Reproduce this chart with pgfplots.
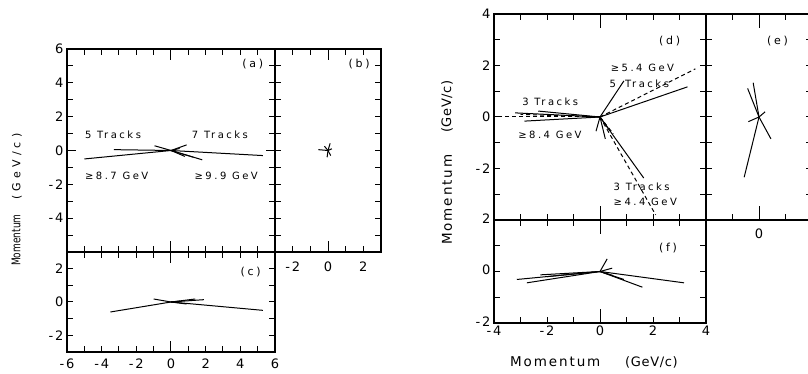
\documentclass[border=0pt]{standalone}
\usepackage{fontspec}
\setmainfont{DejaVu Sans}
\newfontfamily\spacedfont[LetterSpace=25]{DejaVu Sans}
\newfontfamily\titlefont[LetterSpace=14]{DejaVu Sans}
\newfontfamily\unitfont[LetterSpace=5]{DejaVu Sans}
\newfontfamily\leftunitfont[LetterSpace=38]{DejaVu Sans}
\newfontfamily\narrowfont[FakeStretch=0.75]{DejaVu Sans}
\usepackage{pgfplots}
\pgfplotsset{compat=1.18}

% one track: a straight segment from the vertex to its end point
\newcommand\trk[3][]{\addplot[trk,#1] coordinates {(0,0) (#2,#3)};}
\newcommand\mn{-\kern1.8pt}
\newcommand\annfont{\fontsize{10}{11}\spacedfont}
\newcommand\panfont{\fontsize{11}{12}\spacedfont}

\tikzset{lbl/.style={anchor=west, inner sep=0pt}}
\pgfplotsset{
  panel/.style={
    scale only axis, anchor=south west,
    axis line style={line width=1.3pt},
    tick style={black, line width=1pt},
    tick align=inside,
    major tick length=6pt, minor tick length=6pt,
    ticklabel style={font=\fontsize{13}{14}\selectfont},
    /pgf/number format/assume math mode=true,
    clip=true,
  },
  trk/.style={black, line width=1pt, no markers},
  dsh/.style={dash pattern=on 4pt off 3pt},
  zero x/.style={extra x ticks={0}, extra x tick labels={},
    extra x tick style={major tick length=#1}},
  zero y/.style={extra y ticks={0}, extra y tick labels={},
    extra y tick style={major tick length=#1}},
}

\begin{document}
\begin{tikzpicture}
\useasboundingbox (0pt,0pt) rectangle (808pt,374pt);
\clip (0pt,0pt) rectangle (808pt,374pt);

% ---------------- (a) ----------------
\begin{axis}[panel, at={(67pt,122pt)}, width=208pt, height=203pt,
  xmin=-6, xmax=6, ymin=-6, ymax=6,
  xtick={-5,...,5}, xticklabels={}, zero x=11pt,
  ytick={-4,-2,0,2,4,6}, yticklabels={\mn4,\mn2,0,2,4,6},
  minor ytick={-5,-3,-1,1,3,5}, zero y=9pt]
\trk{-5.0}{-0.5}
\trk{-3.3}{0.05}
\trk{-0.95}{0.28}
\trk{0.9}{0.33}
\trk{1.8}{-0.55}
\trk{1.3}{-0.4}
\trk{0.8}{-0.35}
\trk{5.3}{-0.3}
\trk{0.5}{0.12}
\node[lbl, font=\panfont] at (axis cs:4.1,5.1) {(a)};
\node[lbl, font=\annfont] at (axis cs:-4.97,0.95) {5 Tracks};
\node[lbl, font=\annfont] at (axis cs:1.2,0.95) {7 Tracks};
\node[lbl, font=\annfont] at (axis cs:-4.97,-1.48) {≥8.7 GeV};
\node[lbl, font=\annfont] at (axis cs:1.35,-1.48) {≥9.9 GeV};
\end{axis}

% ---------------- (b) ----------------
\begin{axis}[panel, at={(275pt,122pt)}, width=106pt, height=203pt,
  xmin=-3, xmax=3, ymin=-6, ymax=6,
  xtick={-2,0,2}, xticklabels={\mn2,0,2}, minor xtick={-1,1}, zero x=11pt,
  xticklabel style={yshift=-6pt},
  ytick={-5,...,5}, yticklabels={}]
\trk{-0.55}{0.05}
\trk{0.12}{0.42}
\trk{-0.05}{-0.4}
\trk{0.15}{-0.3}
\trk{0.22}{0.1}
\trk{-0.2}{0.25}
\node[lbl, font=\panfont] at (axis cs:1.16,5.1) {(b)};
\end{axis}

% ---------------- (c) ----------------
\begin{axis}[panel, at={(67pt,22pt)}, width=208pt, height=100pt,
  xmin=-6, xmax=6, ymin=-3, ymax=3,
  xtick={-6,-4,...,6}, xticklabels={\mn6,\mn4,\mn2,0,2,4,6},
  minor xtick={-5,-3,...,5}, zero x=11pt,
  xticklabel style={yshift=-3pt},
  ytick={-2,0,2}, yticklabels={\mn2,0,2}, minor ytick={-1,1}]
\trk{-3.5}{-0.6}
\trk{5.3}{-0.5}
\trk{-1.0}{0.18}
\trk{1.9}{0.14}
\trk{1.4}{0.18}
\trk{0.9}{-0.12}
\trk{0.5}{0.05}
\node[lbl, font=\panfont] at (axis cs:4.0,1.8) {(c)};
\end{axis}

% ---------------- (d) ----------------
\begin{axis}[panel, at={(494pt,154pt)}, width=212pt, height=206pt,
  xmin=-4, xmax=4, ymin=-4, ymax=4,
  xtick={-3,...,3}, xticklabels={}, zero x=14pt,
  ytick={-2,0,2,4}, yticklabels={\mn2,0,2,4}, minor ytick={-3,-1,1,3}]
\trk[dsh]{-4.1}{0.0}
\trk[dsh]{-3.0}{0.1}
\trk{-3.2}{0.16}
\trk{-2.85}{-0.16}
\trk{-2.33}{0.23}
\trk{0.9}{1.4}
\trk[dsh]{3.6}{1.87}
\trk{3.3}{1.17}
\trk{1.65}{-2.37}
\trk[dsh]{2.1}{-3.8}
\trk{0.2}{-0.85}
\trk{-0.15}{-0.55}
\trk{0.35}{-0.5}
\trk[dsh]{0.5}{-0.65}
\node[lbl, font=\panfont] at (axis cs:2.22,2.95) {(d)};
\node[lbl, font=\annfont] at (axis cs:0.4,1.9) {≥5.4 GeV};
\node[lbl, font=\annfont] at (axis cs:0.36,1.3) {5\kern9pt Tracks};
\node[lbl, font=\annfont] at (axis cs:-2.94,0.58) {3 Tracks};
\node[lbl, font=\annfont] at (axis cs:-3.09,-0.7) {≥8.4 GeV};
\node[lbl, font=\annfont] at (axis cs:0.51,-2.72) {3 Tracks};
\node[lbl, font=\annfont] at (axis cs:0.51,-3.3) {≥4.4 GeV};
\end{axis}

% ---------------- (e) ----------------
\begin{axis}[panel, at={(706pt,154pt)}, width=106pt, height=206pt,
  xmin=-2, xmax=2, ymin=-4, ymax=4,
  xtick={0}, xticklabels={0}, minor xtick={-1,1,2}, zero x=14pt,
  xticklabel style={yshift=-5pt},
  ytick={-3,...,3}, yticklabels={}]
\trk{-0.56}{-2.34}
\trk{-0.43}{1.11}
\trk{-0.22}{1.33}
\trk{0.45}{-0.85}
\trk{0.23}{0.2}
\trk{-0.4}{-0.18}
\node[lbl, font=\panfont] at (axis cs:0.3,2.95) {(e)};
\end{axis}

% ---------------- (f) ----------------
\begin{axis}[panel, at={(494pt,51pt)}, width=212pt, height=103pt,
  xmin=-4, xmax=4, ymin=-2, ymax=2,
  xtick={-4,-2,0,2,4}, xticklabels={\mn4,\mn2,0,2,4},
  minor xtick={-3,-1,1,3}, zero x=14pt,
  xticklabel style={yshift=1pt},
  ytick={-2,0,2}, yticklabels={\mn2,0,2}, minor ytick={-1,1},
  yticklabel style={yshift=1.5pt}]
\trk{-3.14}{-0.31}
\trk{-2.76}{-0.44}
\trk{-2.25}{-0.13}
\trk{-2.0}{-0.2}
\trk{3.17}{-0.44}
\trk{1.6}{-0.61}
\trk{0.9}{-0.31}
\trk{0.27}{0.49}
\trk{0.46}{0.13}
\trk{0.5}{-0.16}
\node[lbl, font=\panfont] at (axis cs:2.22,0.9) {(f)};
\end{axis}

% axis titles, each placed by the start of its text
\node[lbl, rotate=90, font=\fontsize{12}{13}\narrowfont] at (16pt,108pt) {Momentum};
\node[lbl, rotate=90, font=\fontsize{11}{12}\leftunitfont] at (17pt,174pt) {(GeV/c)};
\node[lbl, rotate=90, font=\fontsize{13.5}{15}\titlefont] at (447pt,129pt) {Momentum};
\node[lbl, rotate=90, font=\fontsize{13}{15}\unitfont] at (447pt,241pt) {(GeV/c)};
\node[lbl, font=\fontsize{13.5}{15}\titlefont] at (510pt,12pt) {Momentum};
\node[lbl, font=\fontsize{13}{15}\unitfont] at (625pt,12pt) {(GeV/c)};
\end{tikzpicture}
\end{document}
